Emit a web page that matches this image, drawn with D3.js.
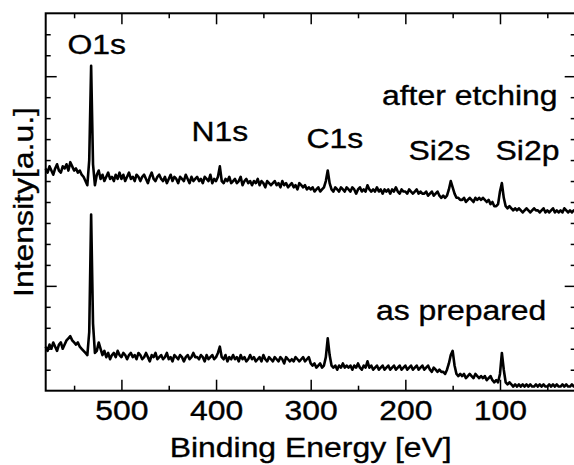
<!DOCTYPE html>
<html><head><meta charset="utf-8">
<script src="https://cdn.jsdelivr.net/npm/d3@7"></script>
<style>
body{margin:0;background:#fff}
svg text{font-family:"Liberation Sans",Arial,sans-serif;fill:#000;stroke:#000;stroke-width:0.35px}
</style>
</head><body>
<svg id="chart" width="574" height="465"></svg>
<script>
// Binding energy grid (eV): 580 down to 20 in steps of 2
const energyStart = 580, energyEnd = 20, energyStep = 2;

// Intensity (arbitrary units), one value per grid point, 580 eV -> 20 eV
const afterEtching = [
56,54,57,55,53,56,58,55,54,57,
56,58,55,59,57,55,56,54,55,53,
52,50,48,60,105,58,48,53,55,51,
53,50,52,54,51,52,50,53,51,54,
51,53,50,52,54,51,52,50,53,52,
50,52,53,51,49,52,54,51,50,52,
53,51,50,52,49,51,53,50,52,51,
49,52,51,50,53,51,49,52,50,51,
52,50,51,49,52,51,50,53,49,51,
50,52,57,50,49,51,50,52,49,50,
51,49,50,52,48,50,51,49,50,48,
50,49,51,48,50,49,47,50,49,48,
49,50,48,49,47,50,48,49,47,48,
49,47,48,46,49,48,47,48,46,47,
46,47,45,46,47,45,46,47,50,55,
49,46,45,47,46,45,47,46,45,47,
46,45,47,46,44,46,47,45,46,45,
48,46,45,46,45,47,45,46,44,46,
45,46,44,46,45,47,45,44,46,45,
45,44,46,45,44,45,46,44,45,44,
44,45,43,44,45,43,44,45,43,42,
43,42,43,46,50,47,44,42,42,41,
41,42,40,41,42,41,40,42,41,42,
41,42,41,40,41,39,40,38,38,39,
45,49,42,38,37,38,37,36,37,36,
37,36,35,36,37,36,35,36,37,36,
36,35,36,37,35,36,35,36,37,35,
36,35,36,35,37,36,35,36,35,36,
36
];

const asPrepared = [
-29,-31,-28,-30,-27,-29,-31,-28,-27,-30,
-28,-26,-25,-24,-26,-27,-28,-27,-29,-30,
-31,-32,-33,-22,34,-18,-32,-31,-27,-30,
-33,-31,-34,-32,-35,-33,-32,-34,-31,-33,
-34,-32,-33,-35,-33,-32,-34,-33,-35,-32,
-33,-35,-34,-32,-34,-36,-33,-34,-32,-35,
-34,-33,-35,-34,-32,-35,-34,-36,-33,-34,
-35,-33,-34,-36,-34,-33,-35,-34,-32,-34,
-34,-35,-33,-34,-36,-33,-35,-34,-33,-35,
-34,-32,-29,-34,-35,-33,-36,-34,-35,-33,
-35,-34,-36,-33,-35,-34,-36,-35,-33,-35,
-34,-36,-35,-34,-36,-33,-35,-36,-34,-35,
-36,-34,-35,-36,-34,-35,-37,-34,-35,-36,
-35,-36,-34,-35,-36,-35,-34,-36,-35,-34,
-37,-38,-37,-39,-38,-37,-39,-38,-34,-25,
-33,-38,-39,-38,-40,-38,-39,-37,-39,-38,
-39,-38,-40,-38,-39,-37,-39,-40,-38,-39,
-36,-39,-38,-40,-39,-38,-40,-39,-38,-40,
-39,-38,-40,-39,-38,-40,-39,-38,-40,-39,
-38,-40,-39,-38,-40,-39,-38,-40,-39,-38,
-40,-39,-38,-40,-41,-39,-40,-41,-40,-41,
-41,-42,-40,-37,-33,-31,-38,-42,-43,-42,
-43,-42,-44,-43,-42,-43,-44,-42,-43,-44,
-43,-44,-43,-45,-44,-43,-45,-46,-45,-46,
-42,-32,-40,-46,-47,-46,-47,-48,-47,-48,
-47,-48,-47,-48,-47,-48,-47,-48,-48,-47,
-48,-47,-48,-47,-48,-48,-47,-48,-47,-48,
-47,-48,-48,-47,-48,-47,-48,-48,-47,-48,
-48
];

const xMajorTicks = [500, 400, 300, 200, 100];
const xMinorTicks = [550, 450, 350, 250, 150, 50];
const yMajorTicks = [0, 100];
const yMinorTicks = [-40, -30, -20, -10, 10, 20, 30, 40, 50, 60, 70, 80, 90, 110, 120];

// Annotations placed in data coordinates (energy, intensity)
const annotationText = ["O1s", "N1s", "C1s", "Si2s", "Si2p", "after etching", "as prepared"];
const annotationEnergy = [557, 426, 304.4, 196.7, 104.7, 224.7, 231];
const annotationValue = [110.6, 69.1, 65.8, 60, 60, 86.3, -16.3];

const xTitle = "Binding Energy [eV]";
const yTitle = "Intensity[a.u.]";

// ---------- drawing ----------
const svg = d3.select("#chart");
const L = 45.7, R = 575.7, T = 13.3, B = 390.7;
const SX = 1.14, FS = 28;

const x = d3.scaleLinear().domain([580, 20]).range([L, R]);
const y = d3.scaleLinear().domain([-50, 130]).range([B, T]);

const energies = d3.range(energyStart, energyEnd - 1, -energyStep);

function styleAxis(g) {
  g.select(".domain").remove();
  g.selectAll(".tick line").attr("stroke", "#000").attr("stroke-width", 1.5);
}

// bottom
svg.append("g").attr("transform", `translate(0,${B})`)
  .call(d3.axisBottom(x).tickValues(xMinorTicks).tickSize(-5).tickFormat(""))
  .call(styleAxis);
const gb = svg.append("g").attr("transform", `translate(0,${B})`)
  .call(d3.axisBottom(x).tickValues(xMajorTicks).tickSize(-11).tickFormat(d3.format("d")))
  .call(styleAxis);
gb.selectAll(".tick text")
  .attr("y", null).attr("dy", null)
  .attr("transform", `translate(0,29.3) scale(${SX},1)`)
  .attr("font-size", FS)
  .attr("font-family", '"Liberation Sans", Arial, sans-serif')
  .attr("fill", "#000");

// top
svg.append("g").attr("transform", `translate(0,${T})`)
  .call(d3.axisTop(x).tickValues(xMinorTicks).tickSize(-5).tickFormat(""))
  .call(styleAxis);
svg.append("g").attr("transform", `translate(0,${T})`)
  .call(d3.axisTop(x).tickValues(xMajorTicks).tickSize(-11).tickFormat(""))
  .call(styleAxis);

// left
svg.append("g").attr("transform", `translate(${L},0)`)
  .call(d3.axisLeft(y).tickValues(yMinorTicks).tickSize(-5).tickFormat(""))
  .call(styleAxis);
svg.append("g").attr("transform", `translate(${L},0)`)
  .call(d3.axisLeft(y).tickValues(yMajorTicks).tickSize(-11).tickFormat(""))
  .call(styleAxis);

// right
svg.append("g").attr("transform", `translate(${R},0)`)
  .call(d3.axisRight(y).tickValues(yMinorTicks).tickSize(-5).tickFormat(""))
  .call(styleAxis);
svg.append("g").attr("transform", `translate(${R},0)`)
  .call(d3.axisRight(y).tickValues(yMajorTicks).tickSize(-11).tickFormat(""))
  .call(styleAxis);

// spectra
const line = d3.line().x((d, i) => x(energies[i])).y(d => y(d));
[afterEtching, asPrepared].forEach(series => {
  svg.append("path").datum(series)
    .attr("d", line)
    .attr("fill", "none")
    .attr("stroke", "#000")
    .attr("stroke-width", 2.6)
    .attr("stroke-linejoin", "round");
});

// frame
svg.append("rect")
  .attr("x", L).attr("y", T).attr("width", R - L).attr("height", B - T)
  .attr("fill", "none").attr("stroke", "#000").attr("stroke-width", 2);

// annotations
annotationText.forEach((t, i) => {
  svg.append("text")
    .attr("transform", `translate(${x(annotationEnergy[i])},${y(annotationValue[i])}) scale(${SX},1)`)
    .attr("font-size", FS)
    .text(t);
});

// axis titles
svg.append("text")
  .attr("transform", `translate(${(L + R) / 2},456.7) scale(${SX},1)`)
  .attr("text-anchor", "middle")
  .attr("font-size", FS)
  .text(xTitle);
svg.append("text")
  .attr("transform", `translate(33,${(T + B) / 2}) rotate(-90) scale(${SX},1)`)
  .attr("text-anchor", "middle")
  .attr("font-size", FS)
  .text(yTitle);
</script>
</body></html>
